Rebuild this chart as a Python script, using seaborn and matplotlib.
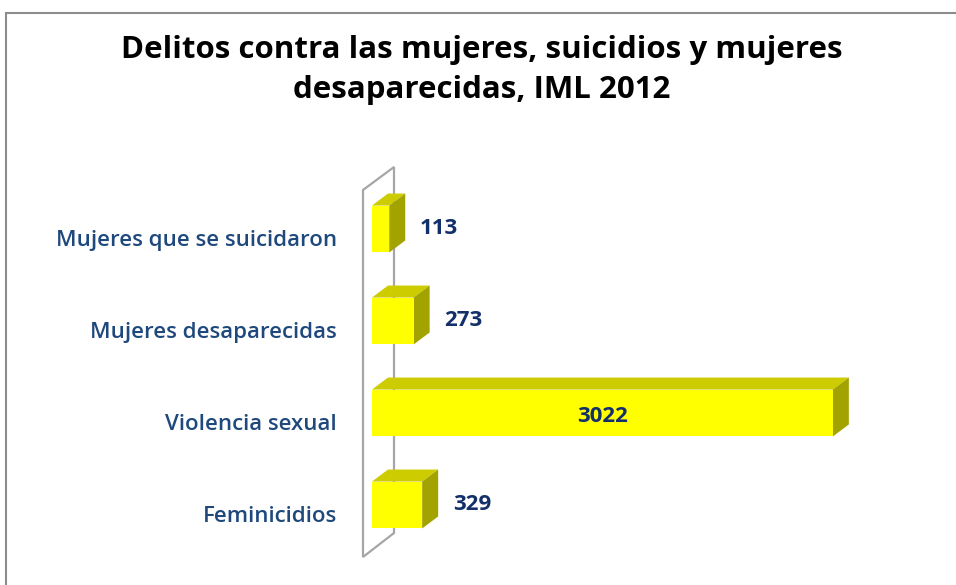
import matplotlib
matplotlib.use("Agg")
import matplotlib.pyplot as plt
import matplotlib.transforms as mtransforms
from matplotlib.patches import Polygon, Rectangle
import seaborn as sns
import pandas as pd

# data (top to bottom as shown)
categorias = ["Mujeres que se suicidaron", "Mujeres desaparecidas", "Violencia sexual", "Feminicidios"]
valores = [113, 273, 3022, 329]
titulo = "Delitos contra las mujeres, suicidios y mujeres\ndesaparecidas, IML 2012"

df = pd.DataFrame({"Categoria": categorias, "Casos": valores})

sns.set_style("white")
plt.rcParams['font.family'] = ['Open Sans', 'DejaVu Sans']

fig = plt.figure(figsize=(9.56, 5.85), dpi=100)
# axes placed so that the bar front faces start at x=372px
ax = fig.add_axes([340/956, 10/585, 560/956, 425/585])

bar_w = 0.51
sns.barplot(data=df, y="Categoria", x="Casos", order=categorias, orient="h",
            color="#FFFF00", width=bar_w, saturation=1, edgecolor="none", ax=ax)
bars = list(ax.patches)
for b in bars:
    b.set_zorder(4)
    b.set_alpha(1)

px = 0.1525  # pixels per unit
ax.set_xlim(-32/px, 528/px)
ax.set_ylim((575-229)/92, (150-229)/92)

dx = 16/px   # depth in x data units
dy = 12/92   # depth in y (category) units

# side wall (back plane)
wx0, wx1 = -9/px, 22/px
wall = Polygon([(wx0, (557-229)/92), (wx0, (190-229)/92), (wx1, (167-229)/92), (wx1, (533-229)/92)],
               closed=True, facecolor="none", edgecolor="#A6A6A6", lw=1.6, zorder=1)
ax.add_patch(wall)

for bar in bars:
    x0, y0 = bar.get_x(), bar.get_y()
    w, h = bar.get_width(), bar.get_height()
    ytop = y0          # inverted axis: y0 is the top edge
    ybot = y0 + h
    top = Polygon([(x0, ytop), (x0+dx, ytop-dy), (x0+w+dx, ytop-dy), (x0+w, ytop)],
                  closed=True, facecolor="#CCCC00", edgecolor="none", zorder=3)
    side = Polygon([(x0+w, ytop), (x0+w+dx, ytop-dy), (x0+w+dx, ybot-dy), (x0+w, ybot)],
                   closed=True, facecolor="#A3A300", edgecolor="none", zorder=3)
    ax.add_patch(top)
    ax.add_patch(side)

# value labels
for i, v in enumerate(valores):
    if v > 2000:
        ax.text(v/2, i+0.04, str(v), ha="center", va="center", fontsize=16,
                fontweight="bold", color="#13306A", zorder=5)
    else:
        ax.text(v+dx+95, i+0.0, str(v), ha="left", va="center", fontsize=16,
                fontweight="bold", color="#13306A", zorder=5)

ax.set_xlabel("")
ax.set_ylabel("")
ax.set_xticks([])
ax.tick_params(axis="y", length=0, pad=2, labelsize=16, labelcolor="#1F497D")
offset = mtransforms.ScaledTranslation(0, -9/100, fig.dpi_scale_trans)
for lab in ax.get_yticklabels():
    lab.set_fontweight("semibold")
    lab.set_transform(lab.get_transform() + offset)
for s in ax.spines.values():
    s.set_visible(False)
ax.patch.set_alpha(0)

fig.text(482/956, 1-70/585, titulo, ha="center", va="center", fontsize=22.5,
         fontweight="bold", color="black", linespacing=1.45)

fig.patches.append(Rectangle((6/956, -0.05), 1.0, 1-13/585+0.05, transform=fig.transFigure,
                             fill=False, edgecolor="#8C8C8C", lw=1.5))

fig.savefig("out.png", dpi=100)
